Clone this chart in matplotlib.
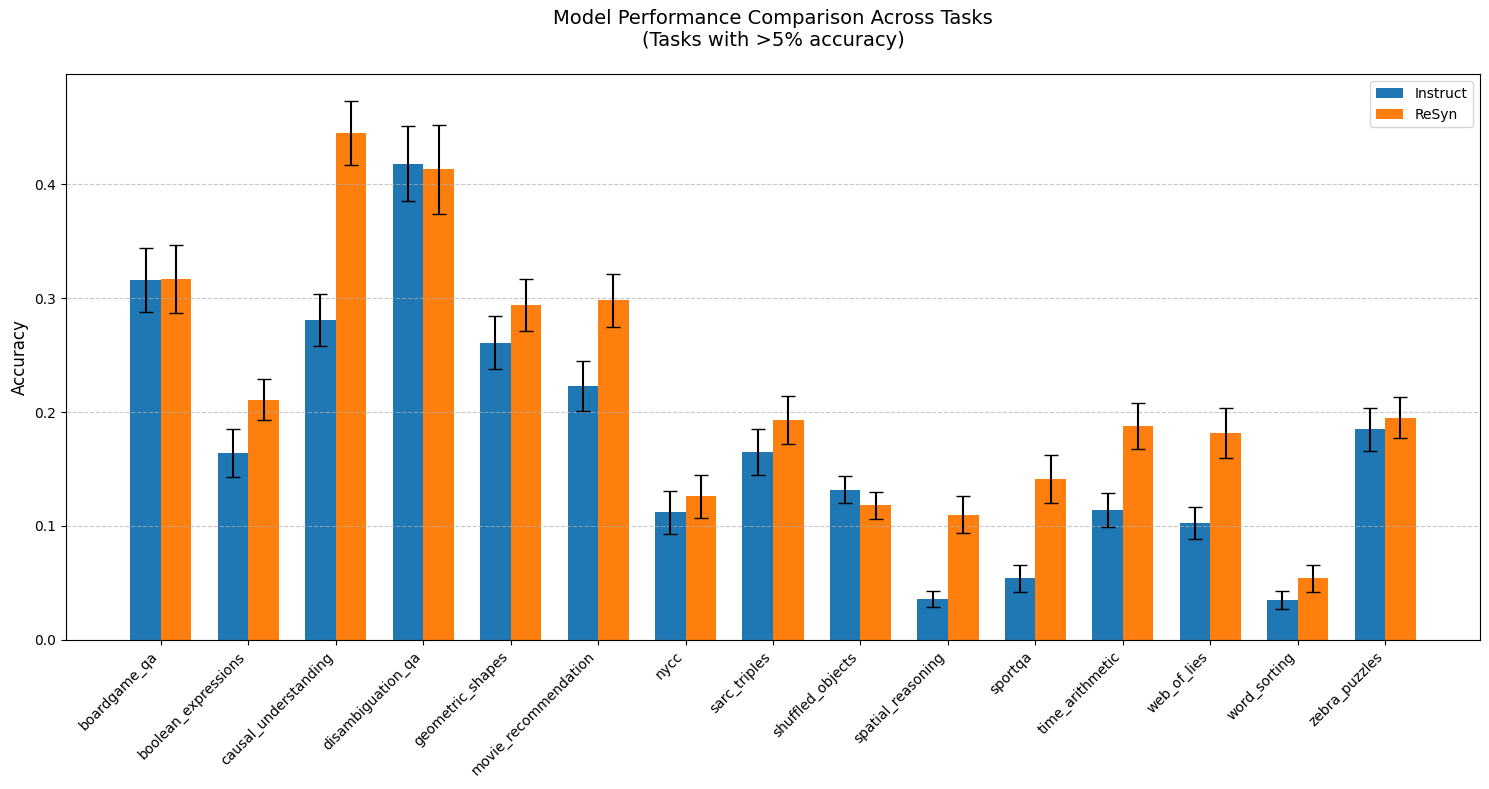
import numpy as np
import matplotlib
matplotlib.use('Agg')
import matplotlib.pyplot as plt

tasks = ['boardgame_qa', 'boolean_expressions', 'causal_understanding', 'disambiguation_qa',
         'geometric_shapes', 'movie_recommendation', 'nycc', 'sarc_triples', 'shuffled_objects',
         'spatial_reasoning', 'sportqa', 'time_arithmetic', 'web_of_lies', 'word_sorting',
         'zebra_puzzles']

instruct = [0.316, 0.164, 0.281, 0.418, 0.261, 0.223, 0.112, 0.165, 0.132, 0.036,
            0.054, 0.114, 0.103, 0.035, 0.185]
instruct_err = [0.028, 0.021, 0.023, 0.033, 0.023, 0.022, 0.019, 0.020, 0.012, 0.007,
                0.012, 0.015, 0.014, 0.008, 0.019]

resyn = [0.317, 0.211, 0.445, 0.413, 0.294, 0.298, 0.126, 0.193, 0.118, 0.110,
         0.141, 0.188, 0.182, 0.054, 0.195]
resyn_err = [0.030, 0.018, 0.028, 0.039, 0.023, 0.023, 0.019, 0.021, 0.012, 0.016,
             0.021, 0.020, 0.022, 0.012, 0.018]

x = np.arange(len(tasks))
width = 0.35

fig, ax = plt.subplots(figsize=(14.89, 7.89), dpi=100)
ax.bar(x - width / 2, instruct, width, yerr=instruct_err, capsize=5, label='Instruct', color='#1f77b4')
ax.bar(x + width / 2, resyn, width, yerr=resyn_err, capsize=5, label='ReSyn', color='#ff7f0e')

ax.set_ylabel('Accuracy', fontsize=12)
ax.set_title('Model Performance Comparison Across Tasks\n(Tasks with >5% accuracy)', fontsize=14, pad=20)
ax.set_xticks(x)
ax.set_xticklabels(tasks, rotation=45, ha='right')
ax.legend(loc='upper right')
ax.grid(True, axis='y', linestyle='--', alpha=0.7)

plt.subplots_adjust(left=0.0443, right=0.994, top=0.906, bottom=0.189)
plt.savefig('out.png', dpi=100)
